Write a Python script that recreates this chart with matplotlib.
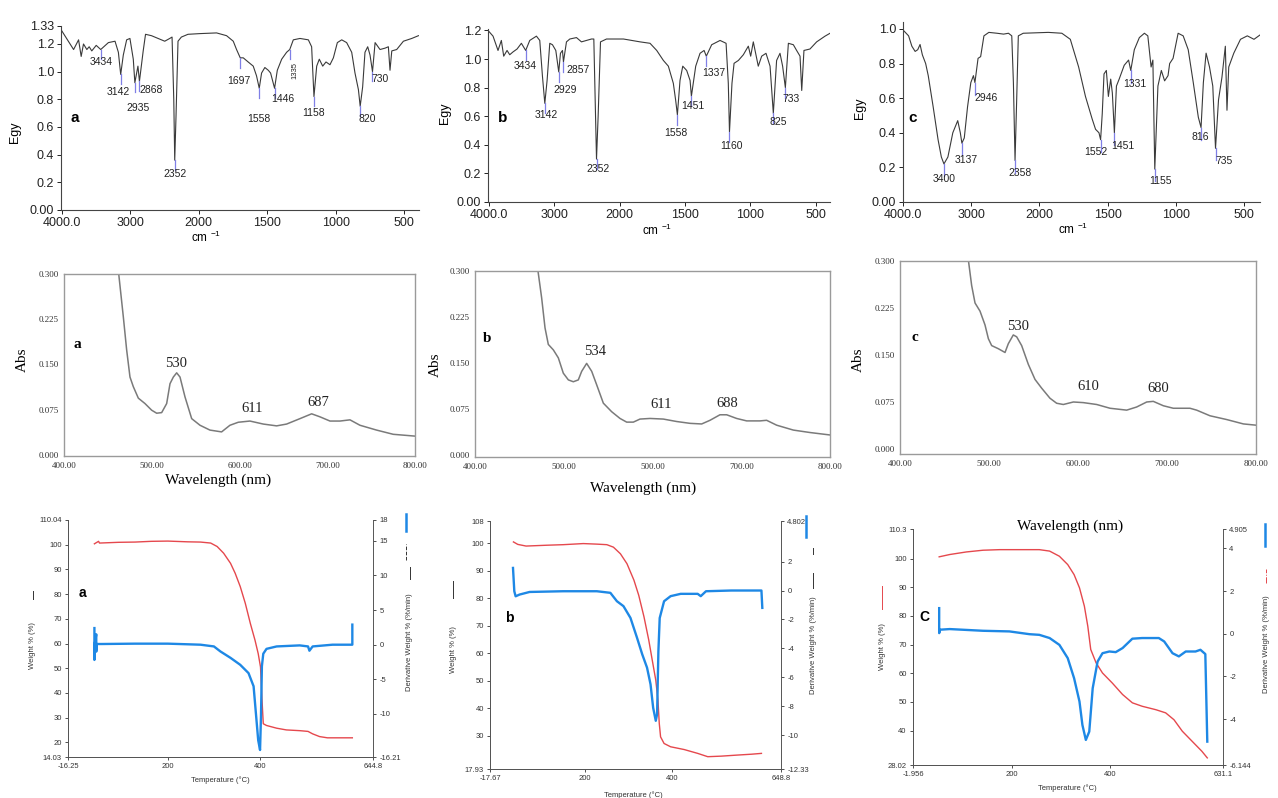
import numpy as np
import matplotlib.pyplot as plt

plt.rcParams['font.family'] = 'Liberation Sans'
plt.rcParams['mathtext.default'] = 'regular'

W, H = 1278, 798

# ---------------- FT-IR spectra (wavenumber cm-1 / Egy) ----------------
ir_a_wn = [4010, 3831, 3758, 3720, 3686, 3637, 3603, 3565, 3500, 3434, 3322, 3225, 3176, 3142, 3104,
           3055, 3007, 2958, 2935, 2890, 2868, 2813, 2779, 2692, 2595, 2498, 2425, 2391, 2366, 2352,
           2333, 2304, 2255, 2158, 1992, 1870, 1797, 1748, 1724, 1697, 1675, 1639, 1602, 1578, 1558,
           1541, 1517, 1492, 1475, 1446, 1426, 1394, 1358, 1335, 1309, 1260, 1199, 1175, 1158, 1138,
           1119, 1094, 1070, 1041, 1016, 987, 955, 919, 882, 858, 833, 820, 802, 785, 765,
           748, 730, 711, 675, 638, 614, 602, 589, 553, 504, 443, 394]
ir_a_egy = [1.30, 1.16, 1.23, 1.11, 1.20, 1.16, 1.18, 1.15, 1.19, 1.16, 1.21, 1.22, 1.14, 0.98, 1.12,
            1.23, 1.24, 1.09, 0.92, 1.04, 0.93, 1.15, 1.27, 1.26, 1.24, 1.22, 1.24, 1.25, 0.80, 0.36,
            0.68, 1.22, 1.25, 1.27, 1.275, 1.28, 1.26, 1.22, 1.16, 1.10, 1.10, 1.07, 1.04, 0.97, 0.88,
            0.99, 1.03, 1.01, 0.99, 0.88, 1.01, 1.09, 1.14, 1.16, 1.23, 1.24, 1.23, 1.18, 0.82, 1.04,
            1.09, 1.04, 1.07, 1.05, 1.10, 1.21, 1.23, 1.21, 1.14, 0.99, 0.87, 0.75, 0.89, 1.14, 1.18,
            1.12, 1.00, 1.21, 1.16, 1.17, 1.18, 1.01, 1.15, 1.16, 1.22, 1.24, 1.26]
ir_a_peak_x = [3434, 3142, 2935, 2868, 2352, 1697, 1558, 1446, 1335, 1158, 820, 730]
ir_a_peak_txt = ['3434', '3142', '2935', '2868', '2352', '1697', '1558', '1446', '1335', '1158', '820', '730']

ir_b_wn = [4010, 3933, 3857, 3806, 3770, 3719, 3678, 3627, 3566, 3500, 3434, 3372, 3270, 3219, 3178,
           3142, 3107, 3066, 3025, 2974, 2929, 2903, 2872, 2857, 2811, 2760, 2658, 2582, 2505, 2429,
           2393, 2372, 2352, 2327, 2291, 2199, 1970, 1843, 1767, 1716, 1665, 1627, 1589, 1571, 1558,
           1538, 1517, 1487, 1461, 1451, 1418, 1385, 1354, 1337, 1296, 1232, 1186, 1169, 1160, 1141,
           1125, 1092, 1054, 1016, 998, 978, 940, 914, 881, 850, 825, 800, 774, 754, 733,
           710, 672, 647, 621, 608, 591, 545, 494, 430, 392]
ir_b_egy = [1.20, 1.16, 1.06, 1.13, 1.02, 1.06, 1.03, 1.05, 1.07, 1.11, 1.06, 1.13, 1.16, 1.13, 0.88,
            0.69, 0.85, 1.11, 1.10, 1.06, 0.91, 1.04, 1.06, 0.98, 1.12, 1.14, 1.15, 1.12, 1.13, 1.14,
            1.14, 0.71, 0.30, 0.60, 1.12, 1.14, 1.14, 1.12, 1.11, 1.06, 0.99, 0.95, 0.83, 0.71, 0.61,
            0.85, 0.95, 0.92, 0.85, 0.74, 0.95, 1.04, 1.06, 1.02, 1.10, 1.13, 1.11, 0.83, 0.49, 0.83,
            0.97, 0.99, 1.03, 1.09, 1.02, 1.12, 0.95, 1.02, 1.04, 0.95, 0.62, 0.99, 1.04, 0.95, 0.80,
            1.11, 1.10, 1.06, 1.02, 0.78, 1.06, 1.07, 1.12, 1.16, 1.18]
ir_b_peak_x = [3434, 3142, 2929, 2857, 2352, 1558, 1451, 1337, 1160, 825, 733]
ir_b_peak_txt = ['3434', '3142', '2929', '2857', '2352', '1558', '1451', '1337', '1160', '825', '733']

ir_c_wn = [3990, 3918, 3870, 3822, 3784, 3750, 3716, 3668, 3630, 3558, 3486, 3438, 3400, 3342, 3270,
           3198, 3160, 3137, 3102, 3054, 3006, 2968, 2946, 2900, 2862, 2814, 2742, 2622, 2526, 2454,
           2406, 2382, 2358, 2334, 2310, 2238, 1935, 1836, 1774, 1713, 1663, 1614, 1589, 1564, 1552,
           1540, 1527, 1510, 1495, 1478, 1466, 1451, 1436, 1416, 1379, 1347, 1331, 1305, 1268, 1231,
           1206, 1182, 1169, 1155, 1132, 1107, 1083, 1058, 1046, 1021, 984, 947, 910, 873, 836,
           816, 799, 779, 754, 730, 710, 688, 663, 638, 626, 613, 576, 527, 477, 428, 384]
ir_c_egy = [0.99, 0.96, 0.90, 0.87, 0.88, 0.91, 0.85, 0.80, 0.73, 0.55, 0.36, 0.26, 0.22, 0.26, 0.40,
            0.47, 0.40, 0.34, 0.37, 0.55, 0.69, 0.73, 0.69, 0.83, 0.84, 0.96, 0.98, 0.975, 0.97, 0.975,
            0.96, 0.69, 0.24, 0.59, 0.96, 0.975, 0.98, 0.975, 0.94, 0.78, 0.61, 0.48, 0.42, 0.40, 0.36,
            0.51, 0.74, 0.76, 0.61, 0.71, 0.63, 0.40, 0.67, 0.71, 0.79, 0.82, 0.76, 0.88, 0.95, 0.975,
            0.96, 0.78, 0.82, 0.19, 0.67, 0.76, 0.70, 0.73, 0.80, 0.83, 0.975, 0.96, 0.88, 0.69, 0.49,
            0.43, 0.69, 0.86, 0.78, 0.67, 0.31, 0.59, 0.72, 0.90, 0.53, 0.78, 0.86, 0.94, 0.96, 0.94, 0.965]
ir_c_peak_x = [3400, 3137, 2946, 2358, 1552, 1451, 1331, 1155, 816, 710]
ir_c_peak_txt = ['3400', '3137', '2946', '2358', '1552', '1451', '1331', '1155', '816', '735']

ir_xticks = [4000, 3000, 2000, 1500, 1000, 500]
ir_xtick_labels = ['4000.0', '3000', '2000', '1500', '1000', '500']

# ---------------- UV-Vis spectra (nm / Abs) ----------------
uv_a_nm = [462, 467.6, 471.4, 475.2, 479, 484.7, 492.3, 499.9, 505.6, 511.3, 517, 520.8, 524.6, 528.4,
           532.2, 537.9, 545.5, 555, 566.3, 579.6, 589.1, 598.6, 611.9, 627.1, 642.3, 653.7, 668.9,
           682.2, 691.7, 703.1, 714.5, 725.9, 737.3, 756.2, 775.2, 800]
uv_a_abs = [0.305, 0.229, 0.174, 0.129, 0.113, 0.094, 0.085, 0.074, 0.069, 0.070, 0.085, 0.118, 0.129,
            0.136, 0.129, 0.096, 0.060, 0.049, 0.041, 0.038, 0.049, 0.054, 0.056, 0.051, 0.048, 0.051,
            0.060, 0.068, 0.063, 0.056, 0.056, 0.058, 0.049, 0.041, 0.034, 0.031]
uv_a_peaks = ['530', '611', '687']

uv_b_nm = [470.5, 475.1, 478.9, 482.6, 488.3, 493.9, 499.5, 505.2, 510.8, 516.4, 520.2, 525.8, 531.5,
           537.1, 544.6, 554, 563.4, 570.9, 578.4, 585.9, 597.2, 612.2, 627.2, 642.3, 655.4, 664.8,
           676, 683.6, 694.8, 706.1, 721.1, 728.6, 739.9, 758.7, 777.5, 800]
uv_b_abs = [0.305, 0.256, 0.207, 0.180, 0.171, 0.158, 0.133, 0.122, 0.119, 0.122, 0.136, 0.149, 0.136,
            0.114, 0.084, 0.070, 0.059, 0.053, 0.053, 0.058, 0.059, 0.058, 0.054, 0.051, 0.050, 0.056,
            0.065, 0.065, 0.059, 0.055, 0.055, 0.056, 0.048, 0.040, 0.036, 0.032]
uv_b_peaks = ['534', '611', '688']

uv_c_nm = [476.5, 480.5, 484.3, 489.9, 495.5, 499.3, 503, 510.5, 518, 521.7, 527.3, 531.1, 536.7, 544.2,
           551.7, 559.2, 568.5, 576, 583.5, 594.8, 606, 621, 636, 654.7, 665.9, 677.2, 684.6, 695.9,
           707.1, 725.8, 733.3, 748.3, 767, 785.8, 800]
uv_c_abs = [0.305, 0.261, 0.233, 0.220, 0.198, 0.176, 0.165, 0.160, 0.154, 0.168, 0.182, 0.179, 0.165,
            0.135, 0.111, 0.097, 0.081, 0.073, 0.071, 0.075, 0.074, 0.071, 0.065, 0.062, 0.067, 0.075,
            0.076, 0.069, 0.065, 0.065, 0.062, 0.053, 0.047, 0.040, 0.038]
uv_c_peaks = ['530', '610', '680']

uv_xticks = [400, 500, 600, 700, 800]
uv_yticks = [0.0, 0.075, 0.15, 0.225, 0.3]
uv_ytick_labels = ['0.000', '0.075', '0.150', '0.225', '0.300']

# ---------------- TGA / DTG (temperature, weight %, derivative) ----------------
tga_a_t = [41, 50, 52, 93, 129, 164, 200, 243, 271, 293, 307, 321, 336, 346, 357, 368, 379, 389, 396,
           401, 404, 407, 414, 436, 457, 486, 504, 514, 529, 546, 564, 600]
tga_a_w = [100.4, 101.4, 100.7, 101.0, 101.1, 101.4, 101.5, 101.2, 101.1, 100.7, 99.3, 96.6, 92.5,
           88.5, 83.1, 76.3, 68.1, 61.4, 55.9, 50.5, 38.0, 27.5, 26.8, 25.7, 25.0, 24.7, 24.4, 23.4,
           22.3, 21.8, 21.8, 21.8]
tga_a_dt = [41, 41, 42, 45, 45, 46, 57, 129, 200, 271, 300, 314, 336, 357, 375, 386, 391, 396, 400,
            402, 404, 407, 414, 436, 486, 504, 507, 514, 557, 600, 600]
tga_a_d = [2.4, -2.2, 0.2, 1.5, -1.0, 0.1, 0.1, 0.15, 0.15, 0.0, -0.25, -0.97, -1.9, -2.9, -4.1,
           -6.0, -9.9, -13.8, -15.2, -10.4, -3.1, -1.3, -0.6, -0.25, -0.1, -0.25, -0.87, -0.25, 0.0,
           0.0, 2.9]

tga_b_t = [36, 46, 65, 112, 150, 196, 227, 250, 265, 281, 296, 312, 323, 335, 346, 354, 362, 367, 370,
           373, 381, 396, 427, 458, 481, 512, 550, 581, 604]
tga_b_w = [100.4, 99.5, 98.9, 99.2, 99.4, 99.8, 99.6, 99.4, 98.5, 96.1, 92.5, 86.5, 81.0, 73.2, 64.7,
           57.4, 50.2, 42.9, 34.5, 29.6, 27.2, 26.0, 25.0, 23.6, 22.4, 22.6, 23.0, 23.3, 23.6]
tga_b_dt = [35, 38, 41, 50, 73, 150, 227, 258, 273, 288, 304, 319, 331, 342, 350, 356, 362, 365, 368,
            371, 381, 396, 419, 458, 465, 477, 535, 604, 606]
tga_b_d = [1.56, -0.05, -0.4, -0.28, -0.1, -0.05, -0.05, -0.16, -0.74, -1.08, -1.89, -3.26, -4.41,
           -5.33, -6.48, -8.1, -9.0, -8.55, -4.2, -1.9, -0.74, -0.39, -0.23, -0.23, -0.39, -0.05, 0.0,
           0.0, -1.2]

tga_c_t = [51.5, 73, 107, 141, 175, 209, 256, 277, 297, 314, 327, 338, 348, 355, 361, 372, 385, 405,
           426, 446, 466, 494, 514, 531, 548, 568, 588, 599]
tga_c_w = [100.6, 101.4, 102.3, 102.9, 103.1, 103.1, 103.1, 102.6, 100.8, 97.9, 94.4, 89.8, 83.4,
           76.4, 68.3, 63.6, 60.1, 56.6, 52.6, 49.7, 48.5, 47.3, 46.2, 43.8, 39.8, 36.3, 32.8, 30.5]
tga_c_dt = [51.5, 51.5, 53, 73, 141, 195, 236, 256, 277, 297, 314, 327, 338, 344, 351, 358, 365, 375,
            385, 399, 412, 426, 446, 466, 500, 511, 528, 541, 555, 575, 585, 595, 599]
tga_c_d = [1.2, 0.03, 0.19, 0.22, 0.14, 0.11, -0.02, -0.05, -0.2, -0.52, -1.14, -2.08, -3.17, -4.27,
           -4.97, -4.58, -2.55, -1.30, -0.91, -0.83, -0.86, -0.67, -0.23, -0.2, -0.2, -0.36, -0.91,
           -1.06, -0.83, -0.83, -0.75, -0.95, -5.05]

RED = '#e5484d'
BLUE = '#1e88e5'

fig = plt.figure(figsize=(W / 100, H / 100), dpi=100)


def add_ax(l, t, r, b):
    return fig.add_axes([l / W, 1 - b / H, (r - l) / W, (b - t) / H])


def ftext(x, y, s, **kw):
    fig.text(x / W, 1 - y / H, s, **kw)


# IR plots expand the region below 2000 cm-1 two-fold
def ir_fwd(x):
    x = np.asarray(x, float)
    return np.where(x > 2000, 2000 + (x - 2000) / 2, x)


def ir_inv(p):
    p = np.asarray(p, float)
    return np.where(p > 2000, 2000 + (p - 2000) * 2, p)


ir_panels = [
    dict(box=(61, 26, 419, 210), wn=ir_a_wn, egy=ir_a_egy, xlim=(4015, 390), ylim=(0, 1.33),
         yticks=[0, 0.2, 0.4, 0.6, 0.8, 1.0, 1.2, 1.33],
         ylabels=['0.00', '0.2', '0.4', '0.6', '0.8', '1.0', '1.2', '1.33'],
         peaks=ir_a_peak_x, names=ir_a_peak_txt,
         txt=[(3429, 1.07, 0), (3176, 0.85, 0), (2885, 0.74, 0), (2690, 0.87, 0), (2352, 0.26, 0),
              (1704, 0.93, 0), (1558, 0.66, 0), (1387, 0.80, 0), (1297, 1.01, 90), (1158, 0.70, 0),
              (772, 0.66, 0), (675, 0.95, 0)],
         letter=('a', 75, 118), egy_xy=(15, 132), cm=(206, 237)),
    dict(box=(488, 29, 830, 202), wn=ir_b_wn, egy=ir_b_egy, xlim=(4010, 392), ylim=(0, 1.21),
         yticks=[0, 0.2, 0.4, 0.6, 0.8, 1.0, 1.2],
         ylabels=['0.00', '0.2', '0.4', '0.6', '0.8', '1.0', '1.2'],
         peaks=ir_b_peak_x, names=ir_b_peak_txt,
         txt=[(3438, 0.95, 0), (3127, 0.61, 0), (2836, 0.78, 0), (2632, 0.92, 0), (2327, 0.23, 0),
              (1568, 0.48, 0), (1441, 0.67, 0), (1283, 0.90, 0), (1143, 0.39, 0), (787, 0.56, 0),
              (686, 0.72, 0)],
         letter=('b', 503, 118), egy_xy=(445, 113), cm=(657, 230)),
    dict(box=(903, 22, 1260, 202), wn=ir_c_wn, egy=ir_c_egy, xlim=(3995, 384), ylim=(0, 1.04),
         yticks=[0, 0.2, 0.4, 0.6, 0.8, 1.0],
         ylabels=['0.00', '0.2', '0.4', '0.6', '0.8', '1.0'],
         peaks=ir_c_peak_x, names=ir_c_peak_txt,
         txt=[(3400, 0.13, 0), (3078, 0.24, 0), (2776, 0.60, 0), (2286, 0.17, 0), (1589, 0.29, 0),
              (1391, 0.325, 0), (1298, 0.68, 0), (1115, 0.12, 0), (823, 0.375, 0), (650, 0.235, 0)],
         letter=('c', 913, 118), egy_xy=(860, 108), cm=(1073, 229)),
]

for p in ir_panels:
    ax = add_ax(*p['box'])
    ax.set_xscale('function', functions=(ir_fwd, ir_inv))
    ax.plot(p['wn'], p['egy'], color='#3a3a3a', lw=0.8)
    ax.set_xlim(*p['xlim'])
    ax.set_ylim(*p['ylim'])
    ax.set_xticks(ir_xticks)
    ax.set_xticklabels(ir_xtick_labels)
    ax.set_yticks(p['yticks'])
    ax.set_yticklabels(p['ylabels'])
    ax.tick_params(labelsize=9, length=3, width=0.7, colors='#222', pad=2)
    for s in ['top', 'right']:
        ax.spines[s].set_visible(False)
    for s in ['left', 'bottom']:
        ax.spines[s].set_color('#444')
        ax.spines[s].set_linewidth(0.8)
    wn = np.array(p['wn'])
    egy = np.array(p['egy'])
    order = np.argsort(wn)
    for x, name, (tx, ty, rot) in zip(p['peaks'], p['names'], p['txt']):
        v = np.interp(x, wn[order], egy[order])
        ax.plot([x, x], [v, v - 0.07], color='#7f7fe6', lw=0.9)
        ax.text(tx, ty, name, ha='center', va='center', rotation=rot,
                fontsize=5.5 if rot else 7.5, color='#222')
    ftext(p['letter'][1], p['letter'][2], p['letter'][0], fontsize=11, fontweight='bold',
          ha='center', va='center')
    ftext(p['egy_xy'][0], p['egy_xy'][1], 'Egy', fontsize=9, rotation=90, ha='center', va='center')
    ftext(p['cm'][0], p['cm'][1], 'cm $^{-1}$', fontsize=8.5, ha='center', va='center')

# ---------------- UV-Vis ----------------
uv_panels = [
    dict(box=(64, 274, 415, 456), nm=uv_a_nm, ab=uv_a_abs, ylim=(-0.002, 0.3),
         xlabels=['400.00', '500.00', '600.00', '700.00', '800.00'],
         peaks=uv_a_peaks, txt=[(528, 0.152), (614, 0.077), (690, 0.086)],
         letter=('a', 77, 344), abs_xy=(22, 360), wl=(218, 480)),
    dict(box=(475, 271, 830, 457), nm=uv_b_nm, ab=uv_b_abs, ylim=(-0.004, 0.3),
         xlabels=['400.00', '500.00', '500.00', '700.00', '800.00'],
         peaks=uv_b_peaks, txt=[(535, 0.169), (610, 0.081), (684, 0.084)],
         letter=('b', 487, 339), abs_xy=(435, 365), wl=(643, 488)),
    dict(box=(900, 261, 1256, 454), nm=uv_c_nm, ab=uv_c_abs, ylim=(-0.008, 0.3),
         xlabels=['400.00', '500.00', '600.00', '700.00', '800.00'],
         peaks=uv_c_peaks, txt=[(533, 0.196), (612, 0.100), (690, 0.096)],
         letter=('c', 915, 338), abs_xy=(858, 360), wl=(1070, 526)),
]

for p in uv_panels:
    ax = add_ax(*p['box'])
    ax.plot(p['nm'], p['ab'], color='#7a7a7a', lw=1.1)
    ax.set_xlim(400, 800)
    ax.set_ylim(*p['ylim'])
    ax.set_xticks(uv_xticks)
    ax.set_xticklabels(p['xlabels'], family='Liberation Serif')
    ax.set_yticks(uv_yticks)
    ax.set_yticklabels(uv_ytick_labels, family='Liberation Serif')
    ax.tick_params(labelsize=6.5, length=0, colors='#333', pad=4)
    for s in ax.spines.values():
        s.set_color('#9a9a9a')
        s.set_linewidth(1.0)
    for name, (tx, ty) in zip(p['peaks'], p['txt']):
        ax.text(tx, ty, name, ha='center', va='center', fontsize=10.5,
                family='Liberation Serif', color='#222')
    ftext(p['letter'][1], p['letter'][2], p['letter'][0], fontsize=11, fontweight='bold',
          family='Liberation Serif', ha='center', va='center')
    ftext(p['abs_xy'][0], p['abs_xy'][1], 'Abs', fontsize=11, rotation=90,
          family='Liberation Serif', ha='center', va='center')
    ftext(p['wl'][0], p['wl'][1], 'Wavelength (nm)', fontsize=11,
          family='Liberation Serif', ha='center', va='center')

# ---------------- TGA ----------------
tga_panels = [
    dict(box=(68, 520, 373, 757), t=tga_a_t, w=tga_a_w, dt=tga_a_dt, d=tga_a_d,
         xlim=(-16.25, 644.8), xt=[-16.25, 200, 400, 644.8], xl=['-16.25', '200', '400', '644.8'],
         wlim=(14.03, 110.04), wt=[14.03, 20, 30, 40, 50, 60, 70, 80, 90, 100, 110.04],
         wl=['14.03', '20', '30', '40', '50', '60', '70', '80', '90', '100', '110.04'],
         dlim=(-16.21, 18), dtk=[-16.21, -10, -5, 0, 5, 10, 15, 18],
         dl=['-16.21', '-10', '-5', '0', '5', '10', '15', '18'],
         letter=('a', 82, 593), temp=(220, 780),
         lx=-0.115, ly=0.47, lline=(0.665, 0.70), lcol='#333',
         rx=1.12, ry=0.485, bar=(1.108, 0.954, 1.025), mid=('--', '#333', 1.108, 0.83, 0.90),
         rline=(0.75, 0.80)),
    dict(box=(490, 521, 781, 769), t=tga_b_t, w=tga_b_w, dt=tga_b_dt, d=tga_b_d,
         xlim=(-17.67, 648.8), xt=[-17.67, 200, 400, 648.8], xl=['-17.67', '200', '400', '648.8'],
         wlim=(17.93, 108), wt=[17.93, 30, 40, 50, 60, 70, 80, 90, 100, 108],
         wl=['17.93', '30', '40', '50', '60', '70', '80', '90', '100', '108'],
         dlim=(-12.33, 4.802), dtk=[-12.33, -10, -8, -6, -4, -2, 0, 2, 4.802],
         dl=['-12.33', '-10', '-8', '-6', '-4', '-2', '0', '2', '4.802'],
         letter=('b', 509, 618), temp=(633, 795),
         lx=-0.127, ly=0.48, lline=(0.69, 0.76), lcol='#333',
         rx=1.11, ry=0.50, bar=(1.086, 0.935, 1.02), mid=('-', '#333', 1.11, 0.865, 0.89),
         rline=(0.73, 0.79)),
    dict(box=(913, 529, 1223, 765), t=tga_c_t, w=tga_c_w, dt=tga_c_dt, d=tga_c_d,
         xlim=(-1.956, 631.1), xt=[-1.956, 200, 400, 631.1], xl=['-1.956', '200', '400', '631.1'],
         wlim=(28.02, 110.3), wt=[28.02, 40, 50, 60, 70, 80, 90, 100, 110.3],
         wl=['28.02', '40', '50', '60', '70', '80', '90', '100', '110.3'],
         dlim=(-6.144, 4.905), dtk=[-6.144, -4, -2, 0, 2, 4, 4.905],
         dl=['-6.144', '-4', '-2', '0', '2', '4', '4.905'],
         letter=('C', 924, 617), temp=(1067, 788),
         lx=-0.10, ly=0.50, lline=(0.66, 0.76), lcol=RED,
         rx=1.14, ry=0.51, bar=(1.135, 0.93, 1.02), mid=('-.', RED, 1.14, 0.77, 0.83),
         rline=None),
]

for p in tga_panels:
    ax = add_ax(*p['box'])
    ax2 = ax.twinx()
    ax.plot(p['t'], p['w'], color=RED, lw=1.0)
    ax2.plot(p['dt'], p['d'], color=BLUE, lw=1.7)
    ax.set_xlim(*p['xlim'])
    ax.set_ylim(*p['wlim'])
    ax2.set_ylim(*p['dlim'])
    ax.set_xticks(p['xt'])
    ax.set_xticklabels(p['xl'])
    ax.set_yticks(p['wt'])
    ax.set_yticklabels(p['wl'])
    ax2.set_yticks(p['dtk'])
    ax2.set_yticklabels(p['dl'])
    for a in (ax, ax2):
        a.tick_params(labelsize=5.5, length=2.5, width=0.6, colors='#333', pad=2)
        a.spines['top'].set_visible(False)
        for s in a.spines.values():
            s.set_color('#555')
            s.set_linewidth(0.7)
    ax.spines['right'].set_visible(False)
    ax.text(p['lx'], p['ly'], 'Weight % (%)', transform=ax.transAxes, rotation=90,
            fontsize=5.5, ha='center', va='center', color='#333')
    ax.plot([p['lx'], p['lx']], p['lline'], transform=ax.transAxes, clip_on=False,
            color=p['lcol'], lw=0.7)
    ax2.text(p['rx'], p['ry'], 'Derivative Weight % (%/min)', transform=ax2.transAxes,
             rotation=90, fontsize=5.5, ha='center', va='center', color='#333')
    bx, b0, b1 = p['bar']
    ax2.plot([bx, bx], [b0, b1], transform=ax2.transAxes, clip_on=False, color=BLUE, lw=1.8)
    ls, col, mx, m0, m1 = p['mid']
    ax2.plot([mx, mx], [m0, m1], transform=ax2.transAxes, clip_on=False, color=col,
             lw=0.7, ls=ls)
    if p['rline']:
        ax2.plot([p['rx'], p['rx']], p['rline'], transform=ax2.transAxes, clip_on=False,
                 color='#333', lw=0.7)
    ftext(p['letter'][1], p['letter'][2], p['letter'][0], fontsize=10, fontweight='bold',
          ha='center', va='center')
    ftext(p['temp'][0], p['temp'][1], 'Temperature (°C)', fontsize=5.5, ha='center',
          va='center', color='#333')

fig.savefig('out.png', dpi=100, facecolor='white')
